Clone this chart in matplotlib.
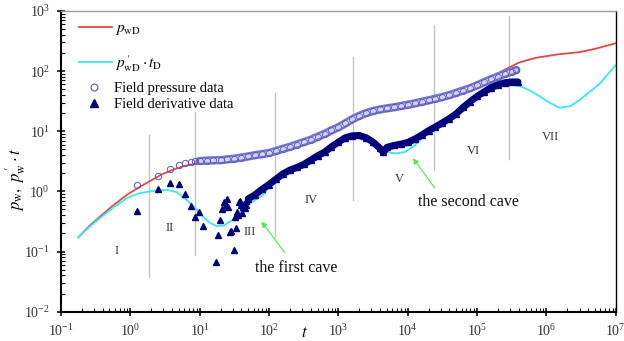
import matplotlib
matplotlib.use('Agg')
import matplotlib.pyplot as plt
import matplotlib.patheffects as pe
from matplotlib.lines import Line2D

plt.rcParams['font.family'] = ['Liberation Serif', 'DejaVu Serif']
plt.rcParams['mathtext.fontset'] = 'stix'

# --- model curves ---
t_pwd = [0.178, 0.25, 0.365, 0.55, 0.885, 1.3, 1.91, 2.8, 4.15, 6, 10, 20, 40, 100,
         200, 400, 800, 1500, 3000, 6000, 12000, 25000, 50000, 100000, 150000,
         250000, 400000, 700000, 1.5e6, 3e6, 5e6, 1e7]
pwd = [0.172, 0.26, 0.38, 0.57, 0.87, 1.15, 1.48, 1.9, 2.3, 2.65, 3.0, 3.15, 3.55, 4.3,
       5.4, 7.0, 10.3, 15.3, 21, 24.8, 28.5, 34.5, 43, 58, 77,
       105, 138, 166, 190, 206, 234, 290]

t_deriv = [0.178, 0.25, 0.365, 0.55, 0.885, 1.3, 1.91, 2.7, 3.5, 4.6, 6.5, 9, 11.2, 14,
           17.5, 22, 27, 34, 42, 55, 82, 115, 200, 350, 600, 940, 1200, 1800, 2800,
           4000, 5500, 6870, 9000, 11900, 15000, 20700, 40300, 78000, 150000, 230000,
           300000, 420000, 570000, 800000, 1.1e6, 1.55e6, 2.2e6, 3e6, 4.2e6, 5.9e6, 1e7]
deriv = [0.172, 0.25, 0.36, 0.52, 0.77, 0.92, 1.0, 1.05, 1.05, 0.98, 0.72, 0.5, 0.38, 0.3,
         0.265, 0.27, 0.31, 0.38, 0.49, 0.65, 0.87, 1.5, 2.26, 2.95, 4.3, 6.2, 7.6, 8.6, 7.4,
         5.3, 4.4, 4.28, 4.5, 5.5, 7.0, 10.4, 16.3, 30.7, 50, 58,
         60, 56, 48, 38, 30, 24.5, 26, 33, 45, 62, 126]

# --- field pressure data ---
t_pres_early = [1.24, 2.48, 3.72, 4.96, 6.2, 7.44, 8.68]
pres_early = [1.3, 1.8, 2.32, 2.75, 2.99, 3.1, 3.15]
t_pres = [10, 12.6, 15.8, 20, 25, 31.6, 40, 50, 63, 79, 100, 126, 158, 200, 251, 316,
          398, 501, 631, 794, 1000, 1259, 1585, 1995, 2512, 3162, 3981, 5012, 6310,
          7943, 10000, 12589, 15849, 19953, 25119, 31623, 39811, 50119, 63096, 79433,
          100000, 125893, 158489, 199526, 251189, 316228, 368000]
pres = [3.2, 3.25, 3.28, 3.3, 3.4, 3.5, 3.65, 3.8, 4.0, 4.15, 4.35, 4.7, 5.1, 5.5, 6.0, 6.6,
        7.2, 8.1, 9.0, 10.3, 11.6, 13.5, 15.8, 18, 20, 21.7, 23, 24, 25,
        26.2, 27.6, 29, 30.8, 32.6, 34.7, 37, 39.8, 43.5, 47.5, 52,
        58, 65, 73, 81, 90, 98, 104]

# --- field derivative data ---
t_der_early = [1.24, 2.48, 3.72, 4.96, 6.2, 7.44, 8.68, 9.92, 11.2, 17.4, 18.6, 19.8,
               21.1, 22.3, 23.6, 24.8, 26.0, 27.3, 28.5, 31.0, 32.2, 33.5, 34.7, 36.0,
               37.2, 38.4, 39.7, 40.9, 42.2, 43.4, 44.6, 45.9, 47.1]
der_early = [0.47, 1.09, 1.39, 1.31, 0.90, 0.57, 0.38, 0.45, 0.27, 0.068, 0.19, 0.33,
             0.50, 0.67, 0.59, 0.74, 0.54, 0.21, 0.22, 0.106, 0.38, 0.25, 0.46, 0.40,
             0.67, 0.69, 0.60, 0.43, 0.55, 0.62, 0.52, 0.70, 0.59]
t_der = [50, 63, 79, 100, 126, 158, 200, 251, 316, 398, 501, 631, 794, 1000, 1259, 1585,
         1995, 2512, 3162, 3981, 4467, 5012, 6310, 7943, 10000, 12589, 15849, 19953,
         25119, 31623, 39811, 50119, 63096, 79433, 100000, 125893, 158489, 199526,
         251189, 316228, 389000]
der = [0.75, 0.88, 1.08, 1.3, 1.6, 1.95, 2.26, 2.5, 2.8, 3.3, 3.9, 4.5, 5.5, 6.6, 7.8, 8.4,
       8.5, 7.8, 6.6, 5.2, 4.45, 5.4, 5.8, 6.1, 6.5, 7.4, 8.6, 10.2,
       11.8, 13.8, 16.2, 19.5, 25, 31, 38, 45, 53, 59,
       64, 66, 66]

# flow regime boundaries: (t, p_low, p_high)
zone_t = [1.85, 8.53, 121, 1630, 23700, 288000]
zone_lo = [0.0377, 0.0875, 0.175, 0.717, 2.26, 3.44]
zone_hi = [8.6, 20.8, 43.5, 170, 578, 815]
zone_names = ['I', 'II', 'III', 'IV', 'V', 'VI', 'VII']
zone_label_t = [0.635, 3.63, 52.8, 400, 7500, 87300, 1.14e6]
zone_label_p = [0.102, 0.243, 0.208, 0.717, 1.58, 4.72, 8.07]

red = '#e04848'
cyan = '#38e8f2'
circ = '#5858c0'
navy = '#00007a'

fig = plt.figure(figsize=(6.24, 3.41), dpi=100)
ax = fig.add_axes([0.0978, 0.086, 0.889, 0.882])
ax.set_xscale('log')
ax.set_yscale('log')
ax.set_xlim(1e-1, 1e7)
ax.set_ylim(1e-2, 1e3)

for x, lo, hi in zip(zone_t, zone_lo, zone_hi):
    ax.plot([x, x], [lo, hi], color='#c4c4c4', lw=1.0, zorder=1)

ax.plot(t_pwd, pwd, color=red, lw=1.3, zorder=2)
ax.plot(t_deriv, deriv, color=cyan, lw=1.3, zorder=2)

# pressure band
ax.plot(t_pres, pres, color='#d4d4f2', lw=2.6, solid_capstyle='round', zorder=3,
        path_effects=[pe.Stroke(linewidth=6.0, foreground='#7474cc'), pe.Normal()])
ax.plot(t_pres, pres, 'o', ms=4.4, mfc='none', mec=circ, mew=0.6, zorder=4)
ax.plot(t_pres_early, pres_early, 'o', ms=4.6, mfc='none', mec=circ, mew=0.7, zorder=4)

# derivative band
ax.plot(t_der, der, color=navy, lw=5.0, solid_capstyle='round', zorder=5)
ax.plot(t_der, der, '^', ms=5, color=navy, zorder=5)
ax.plot(t_der_early, der_early, '^', ms=4.8, color=navy, zorder=5)

for name, x, y in zip(zone_names, zone_label_t, zone_label_p):
    ax.text(x, y, name, fontsize=9, ha='center', va='center', color='#333333')

arrow = dict(arrowstyle='-|>', color='#44ee44', lw=0.8, mutation_scale=8)
ax.annotate('the first cave', xy=(73.6, 0.343), xytext=(249, 0.0542),
            fontsize=11.5, ha='center', va='center', color='#111111')
ax.annotate('', xy=(73.6, 0.343), xytext=(179, 0.0875), arrowprops=arrow)
ax.annotate('the second cave', xy=(11300, 3.86), xytext=(75700, 0.671),
            fontsize=11.5, ha='center', va='center', color='#111111')
ax.annotate('', xy=(11300, 3.86), xytext=(25900, 1.05), arrowprops=arrow)

ax.set_xticks([10.0 ** k for k in range(-1, 8)])
ax.set_yticks([10.0 ** k for k in range(-2, 4)])
ax.tick_params(which='major', direction='inout', length=6, width=1.1,
               labelsize=10, labelcolor='#333333', pad=5)
ax.tick_params(which='minor', direction='in', length=3, width=0.8)
ax.tick_params(which='both', top=False, right=False)

for side in ['left', 'bottom']:
    ax.spines[side].set_linewidth(1.5)
ax.spines['top'].set_color('#999999')
ax.spines['top'].set_linewidth(1.0)
ax.spines['right'].set_linewidth(1.0)

ax.set_xlabel(r'$t$', fontsize=12)
ax.xaxis.set_label_coords(0.438, -0.045)
ax.set_ylabel(r"$p_{\mathrm{w}},\ p_{\mathrm{w}}^{\,\prime}\cdot t$", fontsize=12)
ax.yaxis.set_label_coords(-0.06, 0.44)

h1 = [Line2D([], [], color=red, lw=1.3), Line2D([], [], color=cyan, lw=1.3)]
l1 = [r'$p_{\mathrm{wD}}$', r"$p_{\mathrm{wD}}^{\,\prime}\cdot t_{\mathrm{D}}$"]
leg1 = ax.legend(h1, l1, loc='upper left', bbox_to_anchor=(0.032, 0.965), frameon=False,
                 fontsize=11, handlelength=2.15, handletextpad=0.25, labelspacing=1.05,
                 borderpad=0, borderaxespad=0)
ax.add_artist(leg1)
h2 = [Line2D([], [], ls='none', marker='o', ms=5, mfc='none', mec=circ, mew=0.8),
      Line2D([], [], ls='none', marker='^', ms=5.5, color=navy)]
l2 = ['Field pressure data', 'Field derivative data']
ax.legend(h2, l2, loc='upper left', bbox_to_anchor=(0.032, 0.765), frameon=False,
          fontsize=10.5, handlelength=2.15, handletextpad=0.25, labelspacing=0.22,
          borderpad=0, borderaxespad=0)

fig.savefig('out.png', dpi=100)
